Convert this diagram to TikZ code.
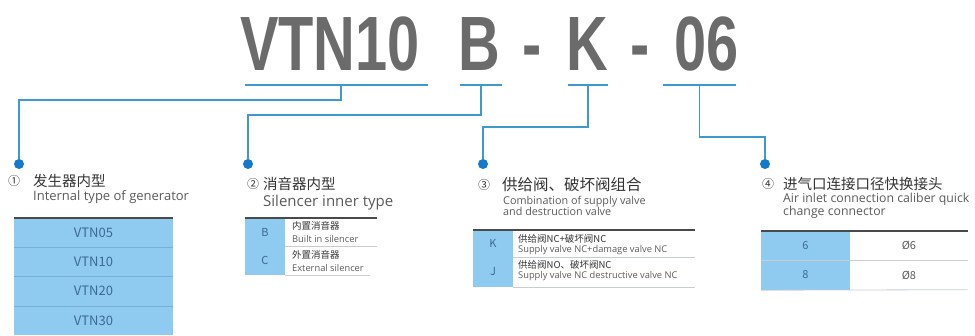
\documentclass[tikz,border=0pt]{standalone}
\usepackage{fontspec}
\setmainfont{Noto Sans CJK SC}
\newfontfamily\titlefont{Liberation Sans}
\newfontfamily\latinfont{Open Sans}
\usetikzlibrary{positioning}
\definecolor{codeGray}{HTML}{6B6B6B}
\definecolor{lineBlue}{HTML}{3E9ACD}
\definecolor{dotBlue}{HTML}{1578C8}
\definecolor{cellBlue}{HTML}{8FCAF0}
\definecolor{cellText}{HTML}{3B6A94}
\definecolor{headGray}{HTML}{333333}
\definecolor{noteGray}{HTML}{5A5A5A}
\definecolor{ruleGray}{HTML}{4A4A4A}
\definecolor{sepGray}{HTML}{C8CDD2}
\definecolor{rowSep}{HTML}{79AFD6}

\begin{document}
\begin{tikzpicture}[
    x=1pt, y=-1pt,
    every node/.style={inner sep=0pt},
    code/.style={font=\titlefont\bfseries\fontsize{77}{77}\selectfont, text=codeGray, anchor=base, xscale=0.75},
    uline/.style={draw=lineBlue, line width=2.5pt},
    link/.style={draw=lineBlue, line width=1.8pt},
    dot/.style={circle, fill=dotBlue, minimum size=10pt},
    head/.style={anchor=west, font=\fontsize{14.5}{16}\selectfont, text=headGray},
    num/.style={anchor=west, font=\fontsize{12}{14}\selectfont, text=headGray},
    note/.style={anchor=west, align=left, font=\latinfont\fontsize{13}{13}\selectfont, text=noteGray},
    gencell/.style={fill=cellBlue, minimum width=159pt, minimum height=29.25pt, font=\fontsize{13}{13}\selectfont, text=cellText},
    keycell/.style={fill=cellBlue, minimum width=40pt, font=\fontsize{11}{12}\selectfont, text=cellText},
    valcell/.style={minimum width=117pt, minimum height=29pt, font=\fontsize{11}{12}\selectfont, text=noteGray},
    cellcn/.style={anchor=west, font=\fontsize{9.5}{10}\selectfont, text=headGray},
    cellen/.style={anchor=west, font=\latinfont\fontsize{9.3}{9}\selectfont, text=noteGray},
    toprule/.style={draw=ruleGray, line width=1.8pt},
    midrule/.style={draw=sepGray, line width=0.8pt}
]
    \useasboundingbox (0,0) rectangle (975,335);

    \node[code] (vtn) at (330,70) {VTN10};
    \node[code] (sil) at (479,70) {B};
    \node[code] (dash1) at (532,70) {-};
    \node[code] (valve) at (587,70) {K};
    \node[code] (dash2) at (640,70) {-};
    \node[code] (port) at (707,70) {06};

    \draw[uline] (245,85) -- coordinate[pos=0.525] (u1) (428,85);
    \draw[uline] (460,85) -- coordinate[pos=0.5] (u2) (502,85);
    \draw[uline] (568,85) -- coordinate[pos=0.5] (u3) (608,85);
    \draw[uline] (663,85) -- coordinate[pos=0.5] (u4) (736,85);

    \node[dot] (d1) at (19,164) {};
    \node[dot] (d2) at (248,164) {};
    \node[dot] (d3) at (483,164) {};
    \node[dot] (d4) at (765,164) {};

    \draw[link] (u1) -- ++(0,15) -| (d1);
    \draw[link] (u2) -- ++(0,30) -| (d2);
    \draw[link] (u3) -- ++(0,42) -| (d3);
    \draw[link] (u4) -- ++(0,52) -| (d4);

    \node[num] (h1num) at (8,181) {①};
    \node[head] (h1) at (33,181) {发生器内型};
    \node[note] (n1) at (33,197) {Internal type of generator};
    \foreach \name [count=\i] in {VTN05,VTN10,VTN20,VTN30}
        \node[gencell] (g\i) at (93.5,203.375+\i*29.25) {\name};
    \foreach \i in {1,2,3}
        \draw[rowSep, line width=0.8pt] (g\i.south west) -- (g\i.south east);
    \draw[toprule] (g1.north west) -- (g1.north east);

    \node[num] (h2num) at (247,184) {②};
    \node[head] (h2) at (263,184) {消音器内型};
    \node[note, font=\latinfont\fontsize{15}{15}\selectfont] (n2) at (263,203) {Silencer inner type};
    \node[keycell, minimum height=28.5pt] (kb) at (265,232.25) {B};
    \node[keycell, minimum height=28.5pt] (kc) at (265,260.75) {C};
    \node[cellcn] (bcn) at (292,225.5) {内置消音器};
    \node[cellen] (ben) at (292,239) {Built in silencer};
    \node[cellcn] (ccn) at (292,254.5) {外置消音器};
    \node[cellen] (cen) at (292,268) {External silencer};
    \draw[midrule] (kb.south east) -- ++(92,0);
    \draw[midrule] (kc.south east) -- ++(85,0);
    \draw[toprule] (kb.north west) -- ++(132,0);

    \node[num] (h3num) at (478,185) {③};
    \node[head, font=\fontsize{15.5}{16}\selectfont] (h3) at (502,185) {供给阀、破坏阀组合};
    \node[note, font=\latinfont\fontsize{10.8}{10.5}\selectfont] (n3) at (503,206) {Combination of supply valve\\and destruction valve};
    \node[keycell, minimum height=27pt] (kk) at (493,243.5) {K};
    \node[keycell, minimum height=30pt] (kj) at (493,272) {J};
    \node[cellcn] (kcn) at (518,239) {供给阀NC+破坏阀NC};
    \node[cellen] (ken) at (518,250) {Supply valve NC+damage valve NC};
    \node[cellcn] (jcn) at (518,265) {供给阀NO、破坏阀NC};
    \node[cellen] (jen) at (518,276) {Supply valve NC destructive valve NC};
    \draw[midrule] (kk.south east) -- ++(182,0);
    \draw[midrule] (kj.south east) -- ++(182,0);
    \draw[toprule] (kk.north west) -- ++(222,0);

    \node[num] (h4num) at (762,184) {④};
    \node[head] (h4) at (783,184) {进气口连接口径快换接头};
    \node[note, font=\latinfont\fontsize{12.3}{11}\selectfont] (n4) at (783,206) {Air inlet connection caliber quick\\change connector};
    \node[keycell, minimum width=89pt, minimum height=29pt] (k6) at (805.5,245.5) {6};
    \node[keycell, minimum width=89pt, minimum height=30pt] (k8) at (805.5,275) {8};
    \node[valcell, right=0pt of k6] (v6) {Ø6};
    \node[valcell, right=0pt of k8] (v8) {Ø8};
    \draw[midrule] (k6.south west) -- (v6.south east);
    \draw[midrule] (k8.south west) -- (v8.south east);
    \draw[toprule] (k6.north west) -- (v6.north east);
\end{tikzpicture}
\end{document}
